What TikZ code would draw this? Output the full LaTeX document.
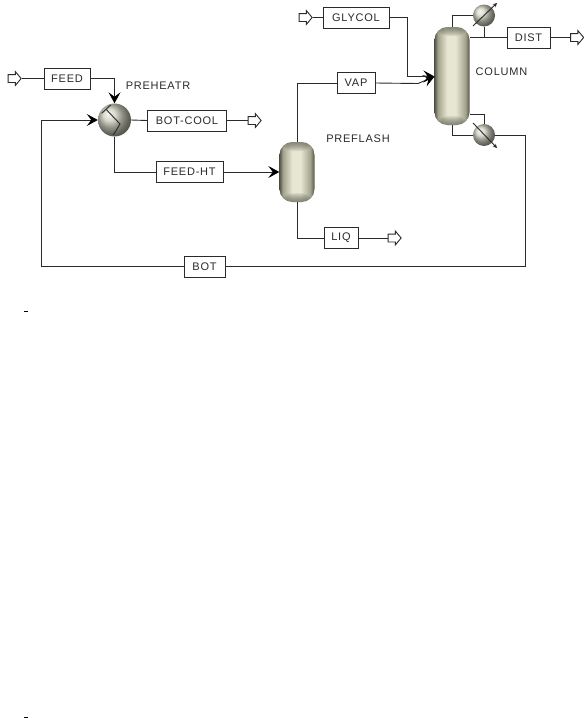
\documentclass[tikz,border=0pt]{standalone}
\usepackage{fontspec}
\setmainfont[LetterSpace=7]{Liberation Sans}
\usepackage{xcolor}
\usetikzlibrary{arrows.meta,shapes.arrows}
\definecolor{pipeline}{HTML}{2A2A2A}
\definecolor{vesselmid}{HTML}{E6E6D2}
\definecolor{vesselside}{HTML}{A4A48E}
\definecolor{vesseledge}{HTML}{55554A}
\definecolor{ballbody}{HTML}{CDCDBE}
\pgfdeclarehorizontalshading{vesselshade}{100bp}{color(0bp)=(vesseledge); color(25bp)=(vesseledge); color(30bp)=(vesselside); color(43bp)=(vesselmid); color(55bp)=(vesselmid); color(69bp)=(vesselside); color(75bp)=(vesseledge); color(100bp)=(vesseledge)}

\begin{document}
\begin{tikzpicture}[
    x=1pt, y=-1pt,
    pipe/.style={draw=pipeline, line width=0.9pt},
    feedpipe/.style={pipe, -{Stealth[length=11pt,width=12pt,inset=4.5pt,black]}},
    streambox/.style={rectangle, draw=pipeline, line width=0.8pt, fill=white, minimum height=21pt, inner sep=0pt, font=\fontsize{11}{13}\selectfont, text=pipeline},
    openarrow/.style={single arrow, draw=pipeline, line width=0.9pt, fill=white, minimum height=13pt, single arrow head extend=3pt, single arrow tip angle=100, inner xsep=0pt, inner ysep=3.5pt},
    blocklabel/.style={font=\fontsize{11}{13}\selectfont, text=pipeline, inner sep=0pt},
    vessel/.style={rectangle, rounded corners=13pt, minimum width=35pt, inner sep=0pt, shading=vesselshade,
        path picture={
            \foreach \d in {1,...,9} {
                \fill[vesseledge, opacity=0.1] (path picture bounding box.north west) rectangle ([yshift=-\d pt]path picture bounding box.north east);
                \fill[vesseledge, opacity=0.1] (path picture bounding box.south west) rectangle ([yshift=\d pt]path picture bounding box.south east);
            }
        }},
    exchanger/.style={circle, inner sep=0pt, shading=ball, ball color=ballbody}
]
\useasboundingbox (0,0) rectangle (584,718);

% Blocks
\node (preheatr) at (114.5,120) [exchanger, minimum size=33pt] {};
\node (preflash) at (297,172) [vessel, minimum height=60pt] {};
\node (column) at (452,76) [vessel, minimum height=98pt] {};
\node (condenser) at (484,15.5) [exchanger, minimum size=22pt] {};
\node (reboiler) at (484,135) [exchanger, minimum size=22pt] {};

% Stream tables
\node (feedbox) at (67,78.5) [streambox, minimum width=46pt] {FEED};
\node (botcool) at (187,120.5) [streambox, minimum width=79pt] {BOT-COOL};
\node (feedht) at (189.5,172) [streambox, minimum width=67pt] {FEED-HT};
\node (vapbox) at (356,83) [streambox, minimum width=38pt] {VAP};
\node (liqbox) at (341,238) [streambox, minimum width=34pt] {LIQ};
\node (glycol) at (356,17.5) [streambox, minimum width=66pt] {GLYCOL};
\node (distbox) at (528.5,37.5) [streambox, minimum width=43pt] {DIST};
\node (botbox) at (204.5,266.5) [streambox, minimum width=41pt] {BOT};

% Open ends
\node (feedin) at (13,78.5) [openarrow] {};
\node (glycolin) at (304,17.5) [openarrow] {};
\node (botout) at (253,120.5) [openarrow] {};
\node (liqout) at (393,238) [openarrow] {};
\node (distout) at (575.5,37.5) [openarrow] {};

% Labels
\node (preheatrlabel) at (158,86) [blocklabel] {PREHEATR};
\node (preflashlabel) at (358,138.5) [blocklabel] {PREFLASH};
\node (columnlabel) at (501.5,71.5) [blocklabel] {COLUMN};

% Column feed points
\coordinate (colfeed) at (434.5,76.5);
\coordinate (vapbend) at (418,83.5);
\coordinate (boilbend) at (525,135);
\coordinate (recycle) at (41,266.5);

% Streams
\draw[pipe] (feedin) -- (feedbox);
\draw[feedpipe] (feedbox.east) -| (preheatr.north);
\draw[pipe] (preheatr.east) -- (botcool.west);
\draw[pipe] (botcool) -- (botout);
\draw[pipe] (preheatr.south) |- (feedht.west);
\draw[feedpipe] (feedht.east) -- (preflash.west);
\draw[pipe] (preflash.north) |- (vapbox.west);
\draw[feedpipe] (vapbox.east) -- (vapbend) -- (colfeed);
\draw[pipe] (preflash.south) |- (liqbox.west);
\draw[pipe] (liqbox) -- (liqout);
\draw[pipe] (glycolin) -- (glycol);
\draw[feedpipe] (glycol.east) -| (407,76.5) -- (colfeed);
\draw[pipe] (column.north) |- (condenser.west);
\draw[pipe] (condenser.south) -- (484,37.5);
\draw[pipe] (469.5,37.5) -- (distbox.west);
\draw[pipe] (distbox) -- (distout);
\draw[pipe] (469.5,114.5) -| (reboiler.north);
\draw[pipe] (column.south) |- (reboiler.west);
\draw[pipe] (reboiler.east) -- (boilbend) -- (recycle -| boilbend) -- (botbox.east);
\draw[pipe] (botbox.west) -- (recycle);
\draw[feedpipe] (recycle) |- (preheatr.west);

% Inside the exchangers
\draw[pipeline, line width=0.9pt] (101.7,113.3) -- (110.7,105) (106.7,110) -- (120,124) -- (113.3,135);
\draw[pipeline, line width=0.9pt, -{Stealth[length=4pt,width=4pt]}] (473,26) -- (497,3);
\draw[pipeline, line width=0.9pt, -{Stealth[length=4pt,width=4pt]}] (473,123) -- (497,148);

% Marks
\fill[black] (24,310.5) rectangle (28,312);
\fill[black] (24,716.5) rectangle (28,718);
\end{tikzpicture}
\end{document}
